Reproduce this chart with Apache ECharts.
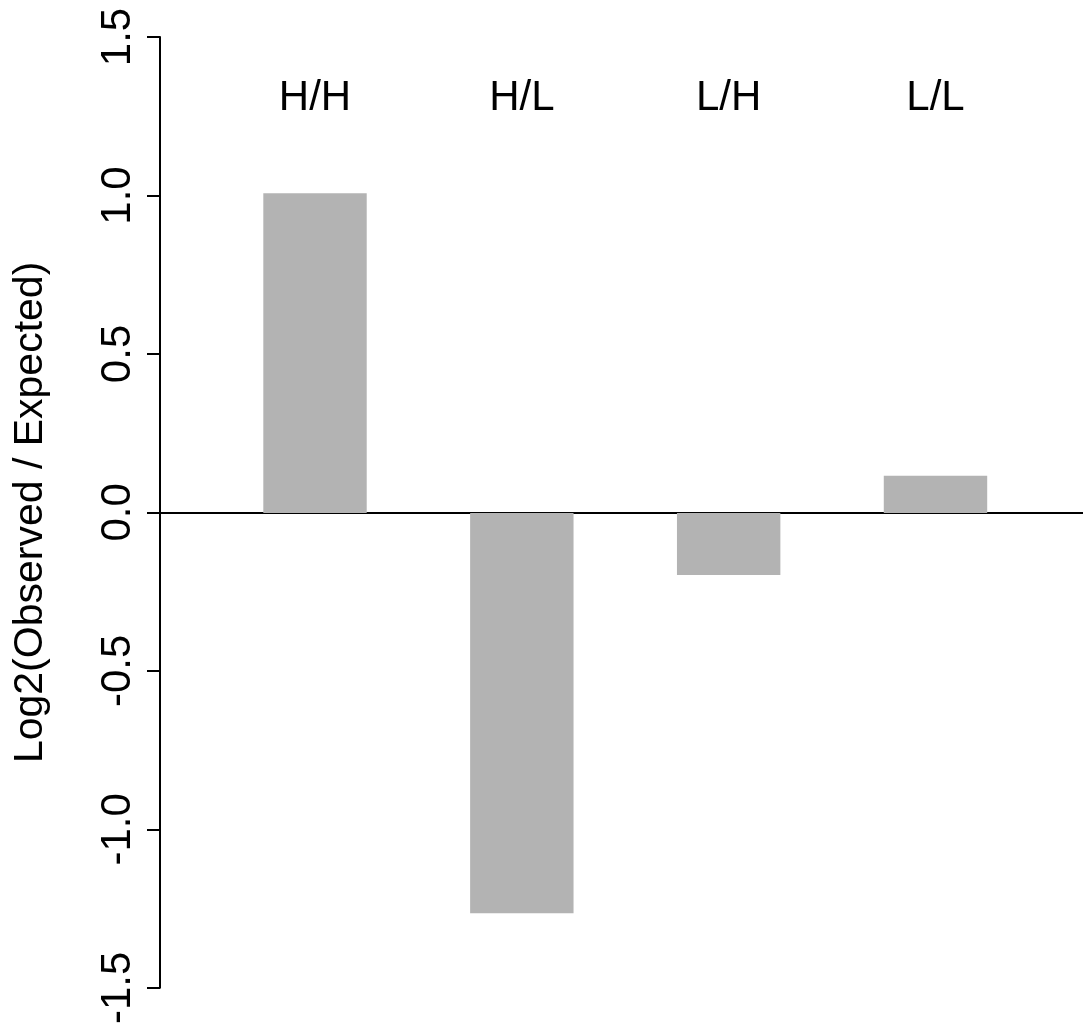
<!DOCTYPE html>
<html>
<head>
<meta charset="utf-8">
<script src="https://cdn.jsdelivr.net/npm/echarts@6/dist/echarts.min.js"></script>
<style>
  html, body { margin: 0; padding: 0; background: #fff; }
  #chart { width: 1083px; height: 1027px; }
</style>
</head>
<body>
<div id="chart"></div>
<script>
// data
var categories = ['H/H', 'H/L', 'L/H', 'L/L'];
var ratios = [1.008, -1.261, -0.195, 0.117];
var yMin = -1.5, yMax = 1.5, yStep = 0.5;
var yTitle = 'Log2(Observed / Expected)';

var font = "'Liberation Sans', Arial, Helvetica, sans-serif";
var mychart = echarts.init(document.getElementById('chart'));

var option = {
    backgroundColor: '#ffffff',
    animation: false,
    grid: [
        // bars
        {left: 211.6, width: 827.3, top: 37, height: 952},
        // y axis + zero line, full width
        {left: 160, right: 0, top: 37, height: 952}
    ],
    xAxis: [
        {
            type: 'category',
            gridIndex: 0,
            data: categories,
            position: 'top',
            axisLine: {show: false},
            axisTick: {show: false},
            axisLabel: {
                inside: true,
                margin: 40,
                color: '#000',
                fontFamily: font,
                fontSize: 42
            }
        },
        {
            type: 'value',
            gridIndex: 1,
            min: 0,
            max: 1,
            axisLine: {show: true, onZero: true, lineStyle: {color: '#000', width: 2}},
            axisTick: {show: false},
            axisLabel: {show: false},
            splitLine: {show: false}
        }
    ],
    yAxis: [
        {
            type: 'value',
            gridIndex: 0,
            min: yMin,
            max: yMax,
            interval: yStep,
            show: false
        },
        {
            type: 'value',
            gridIndex: 1,
            min: yMin,
            max: yMax,
            interval: yStep,
            name: yTitle,
            nameLocation: 'middle',
            nameRotate: 90,
            nameGap: 109,
            nameTextStyle: {color: '#000', fontFamily: font, fontSize: 41},
            axisLine: {show: true, lineStyle: {color: '#000', width: 2}},
            axisTick: {show: true, length: 13, lineStyle: {color: '#000', width: 2}},
            axisLabel: {
                rotate: 90,
                margin: 21,
                color: '#000',
                fontFamily: font,
                fontSize: 42,
                formatter: function (v) { return v.toFixed(1); }
            },
            splitLine: {show: false}
        }
    ],
    series: [
        {
            type: 'bar',
            xAxisIndex: 0,
            yAxisIndex: 0,
            data: ratios,
            barWidth: '50%',
            itemStyle: {color: '#b3b3b3'},
            z: 1
        }
    ]
};
mychart.setOption(option);
</script>
</body>
</html>
